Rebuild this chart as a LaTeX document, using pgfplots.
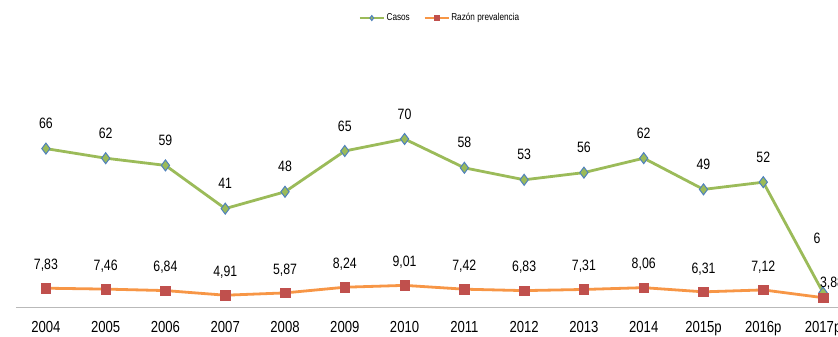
\documentclass[border=0pt]{standalone}
\usepackage{pgfplots}
\usepackage{pgfplotstable}
\pgfplotsset{compat=1.18}
\usepackage{fontspec}
\setmainfont{Liberation Sans}[FakeStretch=0.82]

\definecolor{casosline}{HTML}{9BBB59}
\definecolor{casosedge}{HTML}{4F81BD}
\definecolor{razonline}{HTML}{F79646}
\definecolor{razonmark}{HTML}{C0504D}

% x: category index, lab: data label, dx/dy: label offset (pt)
\pgfplotstableread{
x y lab dx dy
0 66 66 0 25
1 62 62 0 25
2 59 59 0 25
3 41 41 0 25
4 48 48 0 25
5 65 65 0 25
6 70 70 0 25
7 58 58 0 25
8 53 53 0 25
9 56 56 0 25
10 62 62 0 25
11 49 49 0 25
12 52 52 0 25
13 6 6 -6 54
}\casos

\pgfplotstableread{
x y lab dx dy
0 7.83 7,83 0 23
1 7.46 7,46 0 23
2 6.84 6,84 0 23
3 4.91 4,91 0 23
4 5.87 5,87 0 23
5 8.24 8,24 0 23
6 9.01 9,01 0 23
7 7.42 7,42 0 23
8 6.83 6,83 0 23
9 7.31 7,31 0 23
10 8.06 8,06 0 23
11 6.31 6,31 0 23
12 7.12 7,12 0 23
13 3.88 3,88 9 14
}\razon

\begin{document}
\begin{tikzpicture}
\begin{axis}[
    name=ax,
    scale only axis,
    width=822pt, height=240pt,
    xmin=-0.5, xmax=13.25,
    ymin=0, ymax=100,
    clip=false,
    axis y line=none,
    axis x line*=bottom,
    x axis line style={-, draw=gray!55, line width=0.8pt},
    major tick length=0,
    xtick=data,
    xticklabels={2004,2005,2006,2007,2008,2009,2010,2011,2012,2013,2014,2015p,2016p,2017p},
    xticklabel style={font=\fontsize{16}{18}\selectfont, anchor=base, yshift=-26pt},
    nodes near coords,
    point meta=explicit symbolic,
    visualization depends on={\thisrow{dx} \as \dx},
    visualization depends on={\thisrow{dy} \as \dy},
    every node near coord/.append style={anchor=center, xshift=\dx, yshift=\dy,
        font=\fontsize{15}{17}\selectfont, text=black},
    legend columns=2,
    legend style={at={(0.516,1.204)}, anchor=center, draw=none, fill=none,
        font=\fontsize{10}{12}\selectfont,
        /tikz/every even column/.append style={column sep=12pt}},
    legend image code/.code={\draw[mark repeat=2,mark phase=2,#1]
        plot coordinates {(0pt,0pt) (12pt,0pt) (24pt,0pt)};},
    legend image post style={mark size=2.5pt, line width=1.5pt},
]
\addplot[casosline, line width=2.8pt, mark=diamond*,
    mark size=5.5pt, mark options={fill=casosline, draw=casosedge, line width=1pt}]
    table[x=x, y=y, meta=lab] {\casos};
\addlegendentry{Casos}

\addplot[razonline, line width=2.8pt, mark=square*,
    mark size=4.8pt, mark options={fill=razonmark, draw=razonmark, line width=0.5pt}]
    table[x=x, y=y, meta=lab] {\razon};
\addlegendentry{Razón prevalencia}
\end{axis}
\pgfresetboundingbox
\path[use as bounding box] ([xshift=-16pt, yshift=-30pt]ax.south west) rectangle ([yshift=67pt]ax.north east);
\end{tikzpicture}
\end{document}
